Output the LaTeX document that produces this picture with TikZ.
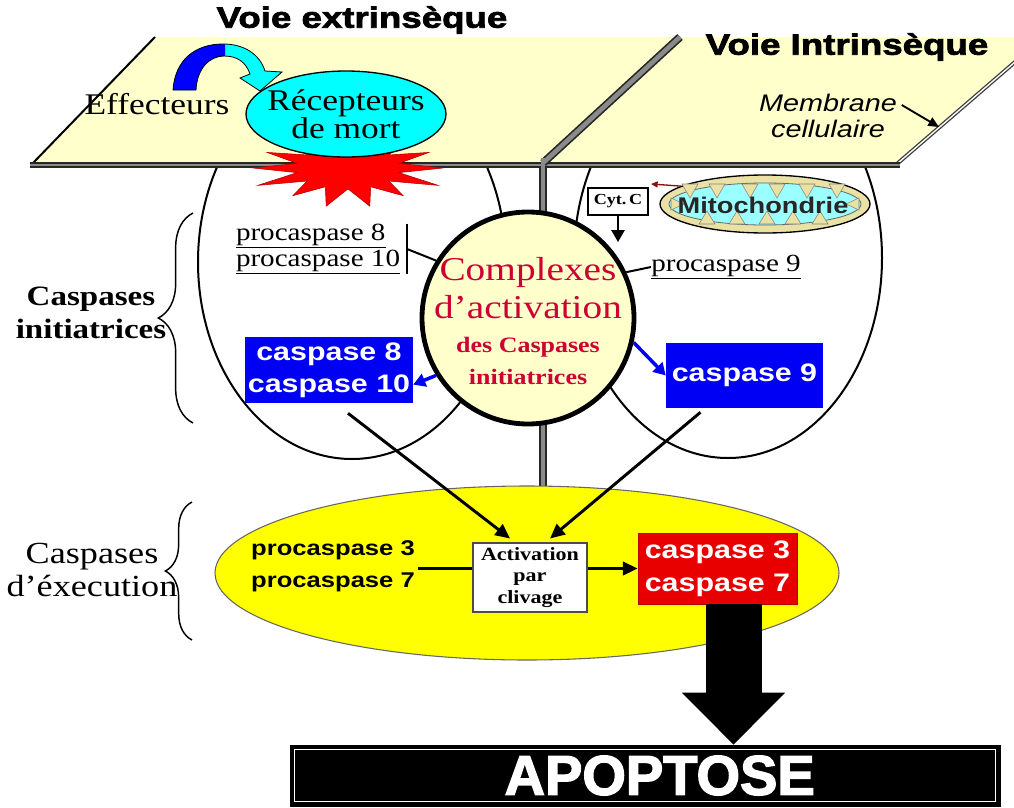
\documentclass[tikz,border=0pt]{standalone}
\usepackage{fontspec}
\setmainfont{Liberation Serif}[FakeStretch=1.18]
\newfontfamily\sansfam{Liberation Sans}[FakeStretch=1.2]
\newfontfamily\titlefam{Liberation Sans}[FakeStretch=1.25,BoldFeatures={FakeBold=2.5}]
\newfontfamily\apofam{Liberation Sans}[BoldFeatures={FakeBold=2.5}]
\usetikzlibrary{shapes.geometric,arrows.meta,decorations.pathreplacing,calc}

\definecolor{cream}{HTML}{FFFFCC}
\definecolor{recepcyan}{HTML}{00FFFF}
\definecolor{mitoring}{HTML}{EAE2A4}
\definecolor{mitoin}{HTML}{9CFFFF}
\definecolor{boxblue}{HTML}{0000F5}
\definecolor{cplxred}{HTML}{CC0033}
\definecolor{execyellow}{HTML}{FFFF00}
\definecolor{boxred}{HTML}{E80000}
\definecolor{bargray}{HTML}{8A8A8A}
\definecolor{darkred}{HTML}{8B1010}

% outline of the curved "effecteurs" arrow
\def\effpath{(173,90) .. controls (175,60) and (195,44) .. (223,44)
  .. controls (245,44) and (260,55) .. (265,71) -- (282,72) -- (260,91)
  -- (240,78) -- (250,74) .. controls (246,62) and (237,56) .. (224,56)
  .. controls (210,56) and (197,68) .. (196,90) -- cycle}

\begin{document}
\begin{tikzpicture}[x=0.75pt,y=-0.75pt,
  cell/.style={draw=black,line width=1.5pt},
  barout/.style={line width=6pt,black!85},
  barin/.style={line width=3.5pt,bargray},
  titletext/.style={font=\titlefam\bfseries\fontsize{22}{25}\selectfont,inner sep=0pt},
  seriflbl/.style={font=\fontsize{22.5}{20}\selectfont,inner sep=0pt,align=center},
  procas/.style={font=\fontsize{18.5}{18}\selectfont,inner sep=0pt,align=left},
  cplxline/.style={text=cplxred,inner sep=0pt,anchor=base},
  bluebox/.style={rectangle,fill=boxblue,text=white,inner sep=0pt,align=center,
    font=\sansfam\bfseries\fontsize{19}{24}\selectfont},
  bluearrow/.style={draw=boxblue,line width=2.6pt,-{Triangle[length=9pt,width=10pt]}},
  blkarrow/.style={draw=black,line width=2.2pt,-{Triangle[length=11pt,width=10pt]}},
  bracestyle/.style={draw=black,line width=1.1pt,decorate},
  sidelbl/.style={font=\bfseries\fontsize{21}{25}\selectfont,inner sep=0pt,align=center},
]
\useasboundingbox (0,0) rectangle (1014,807);
\clip (0,0) rectangle (1014,807);

% the two cell compartments (their tops disappear under the membrane)
\draw[cell] (352,262) ellipse [x radius=154, y radius=197];
\draw[cell] (728,258) ellipse [x radius=154, y radius=200];

% divider between the two pathways
\draw[barout] (543,160) -- (543,500);
\draw[barin] (543,160) -- (543,500);

% cell membrane
\fill[cream] (33,163) -- (155,37) -- (1044,37) -- (898,163) -- cycle;
\draw[line width=1.5pt] (33,163) -- (155,37);
\draw[line width=3pt,black!75] (898,163) -- (1044,37);
\draw[line width=1pt,white] (898,163) -- (1044,37);
\draw[line width=4pt,black!85] (30,165) -- (900,165);
\draw[line width=2pt,bargray] (30,165) -- (900,165);
\draw[barout] (680,37) -- (543,163);
\draw[barin] (680,37) -- (543,163);
\draw[line width=3.5pt,bargray] (543,158) -- (543,170);

% titles
\node[titletext] (extr) at (362,20) {Voie extrinsèque};
\node[titletext] (intr) at (847,47) {Voie Intrinsèque};

% membrane label
\node[font=\sansfam\itshape\fontsize{18}{19}\selectfont,align=center,inner sep=2pt] (memtext) at (828,116) {Membrane\\cellulaire};
\coordinate (mempt) at (939,127);
\draw[line width=1.4pt,-{Triangle[length=8pt,width=7pt]}] ($(memtext.east)+(2,-11)$) -- (mempt);

% death receptor with its activation burst
\fill[red,draw=red!70!black,line width=0.4pt] plot[domain=0:360,samples=29,variable=\t]
  ({348+95*(0.55+(0.45+0.07*sin(5*\t))*(1+cos(14*\t))/2)*cos(\t)},
   {168+38*(0.55+(0.45+0.07*sin(5*\t))*(1+cos(14*\t))/2)*sin(\t)}) -- cycle;
\node[ellipse,draw=black,line width=1pt,fill=recepcyan,minimum width=150pt,minimum height=64.5pt,inner sep=0pt] (recep) at (346,114) {};
\node[seriflbl,font=\fontsize{22.5}{19}\selectfont] (receptext) at (recep.center) {Récepteurs\\de mort};

% effectors and their curved arrow onto the receptor
\node[seriflbl] (eff) at (157,104) {Effecteurs};
\fill[recepcyan] \effpath;
\begin{scope}
  \clip (150,30) rectangle (225,100);
  \fill[blue] \effpath;
\end{scope}
\draw[black,line width=0.6pt] \effpath;

% activation complex
\node[circle,draw=black,line width=3.6pt,fill=cream,minimum size=159pt,inner sep=0pt] (cplx) at (528,318) {};
\node[cplxline,font=\fontsize{25}{28}\selectfont] (cplx1) at (528,280) {Complexes};
\node[cplxline,font=\fontsize{25}{28}\selectfont] (cplx2) at (528,318) {d'activation};
\node[cplxline,font=\bfseries\fontsize{16.5}{20}\selectfont] (cplx3) at (528,352) {des Caspases};
\node[cplxline,font=\bfseries\fontsize{16.5}{20}\selectfont] (cplx4) at (528,384) {initiatrices};

% extrinsic side
\node[procas,anchor=east,inner xsep=5pt] (pc810) at (407,249) {\underline{procaspase 8}\\\underline{procaspase 10}};
\draw[line width=1.2pt] (pc810.north east) -- (pc810.south east);
\draw[line width=1.5pt] (pc810.east) -- (cplx.148);
\node[bluebox,minimum width=126pt,minimum height=49.5pt] (c810) at (329,370) {caspase 8\\caspase 10};
\draw[bluearrow] (cplx.212) -- ($(c810.north east)!0.72!(c810.south east)$);

% intrinsic side
\node[ellipse,draw=black,line width=1pt,fill=mitoring,minimum width=157.5pt,minimum height=43.5pt,inner sep=0pt] (mito) at (765,204) {};
\fill[mitoin,draw=black!60,line width=0.6pt] (mito.center) ellipse [x radius=96, y radius=21];
\foreach \x in {690,717,750,777,807,837}
  \filldraw[mitoring,draw=black!50,line width=0.4pt] (\x-8,184) -- (\x+8,184) -- (\x,198) -- cycle;
\foreach \x in {707,737,767,793,820}
  \filldraw[mitoring,draw=black!50,line width=0.4pt] (\x-8,224) -- (\x+8,224) -- (\x,211) -- cycle;
\filldraw[mitoring,draw=black!50,line width=0.4pt] (671,198) -- (671,210) -- (684,204) -- cycle;
\filldraw[mitoring,draw=black!50,line width=0.4pt] (859,198) -- (859,210) -- (846,204) -- cycle;
\node[font=\sansfam\bfseries\fontsize{17}{20}\selectfont,text=black!85,inner sep=0pt] (mitotext) at (763,205) {Mitochondrie};

\node[rectangle,draw=black,line width=0.8pt,fill=white,minimum width=45pt,minimum height=20.25pt,inner sep=0pt,
  font=\bfseries\fontsize{11.5}{12}\selectfont] (cytc) at (618,201.5) {Cyt.\,C};
\coordinate (cytin) at (651,184);
\draw[darkred,line width=1pt,-{Triangle[length=5pt,width=4.5pt]}] (mito.168) -- (cytin);
\coordinate (cytend) at (618,242);
\draw[line width=1.4pt,-{Triangle[length=9pt,width=10pt]}] (cytc.south) -- (cytend);

\node[procas,anchor=west] (pc9) at (651,267) {\underline{procaspase 9}};
\draw[line width=1.5pt] (cplx.25) -- (pc9.west);
\node[bluebox,minimum width=117.75pt,minimum height=48.75pt] (c9) at (744.5,375.5) {caspase 9};
\draw[bluearrow] (cplx.-13) -- (c9.west);

% side labels with braces
\draw[bracestyle,decoration={brace,amplitude=26pt}] (193,423) -- (193,213);
\node[sidelbl] (initx) at (91,313) {Caspases\\initiatrices};
\draw[bracestyle,decoration={brace,amplitude=20pt}] (192,640) -- (192,502);
\node[sidelbl,font=\fontsize{23}{25}\selectfont] (execx) at (92,570) {Caspases\\d'éxecution};

% execution caspases
\node[ellipse,draw=black!60,line width=0.8pt,fill=execyellow,minimum width=468pt,minimum height=130.5pt,inner sep=0pt] (exec) at (527,573) {};
\node[font=\sansfam\bfseries\fontsize{16}{24}\selectfont,align=left,inner sep=2pt] (pc37) at (333,566) {procaspase 3\\procaspase 7};
\node[rectangle,draw=black!70,line width=0.8pt,fill=white,minimum width=85.5pt,minimum height=51.75pt,inner sep=0pt,align=center,
  font=\bfseries\fontsize{14}{16}\selectfont] (act) at (530,577.5) {Activation\\par\\clivage};
\node[rectangle,fill=boxred,draw=boxred!80!black,line width=0.6pt,text=white,minimum width=119.25pt,minimum height=53.25pt,inner sep=0pt,align=center,
  font=\sansfam\bfseries\fontsize{19}{25}\selectfont] (c37) at (717.5,568.5) {caspase 3\\caspase 7};
\draw[line width=2.2pt] (pc37.east |- c37.west) -- (act.west |- c37.west);
\draw[blkarrow] (act.east |- c37.west) -- (c37.west);

% initiator caspases acting on the execution step
\draw[blkarrow] ($(c810.south)+(19,10)$) -- ($(act.north)+(-20,-4)$);
\draw[blkarrow] ($(c9.south)+(-44,4)$) -- ($(act.north)+(20,-4)$);

% outcome
\node[rectangle,fill=black,draw=black,minimum width=532.5pt,minimum height=45.75pt,inner sep=0pt,text=white,
  font=\apofam\bfseries\fontsize{42}{44}\selectfont] (apop) at (645,775.5) {\hspace*{22pt}APOPTOSE};
\draw[white,line width=1pt] ($(apop.north west)+(5,5)$) rectangle ($(apop.south east)+(-5,-5)$);
\coordinate (bigtop) at ($(c37.south)+(16,0)$);
\draw[line width=42pt,-{Triangle[length=39pt,width=75pt]}] (bigtop) -- (bigtop |- apop.north);
\end{tikzpicture}
\end{document}
